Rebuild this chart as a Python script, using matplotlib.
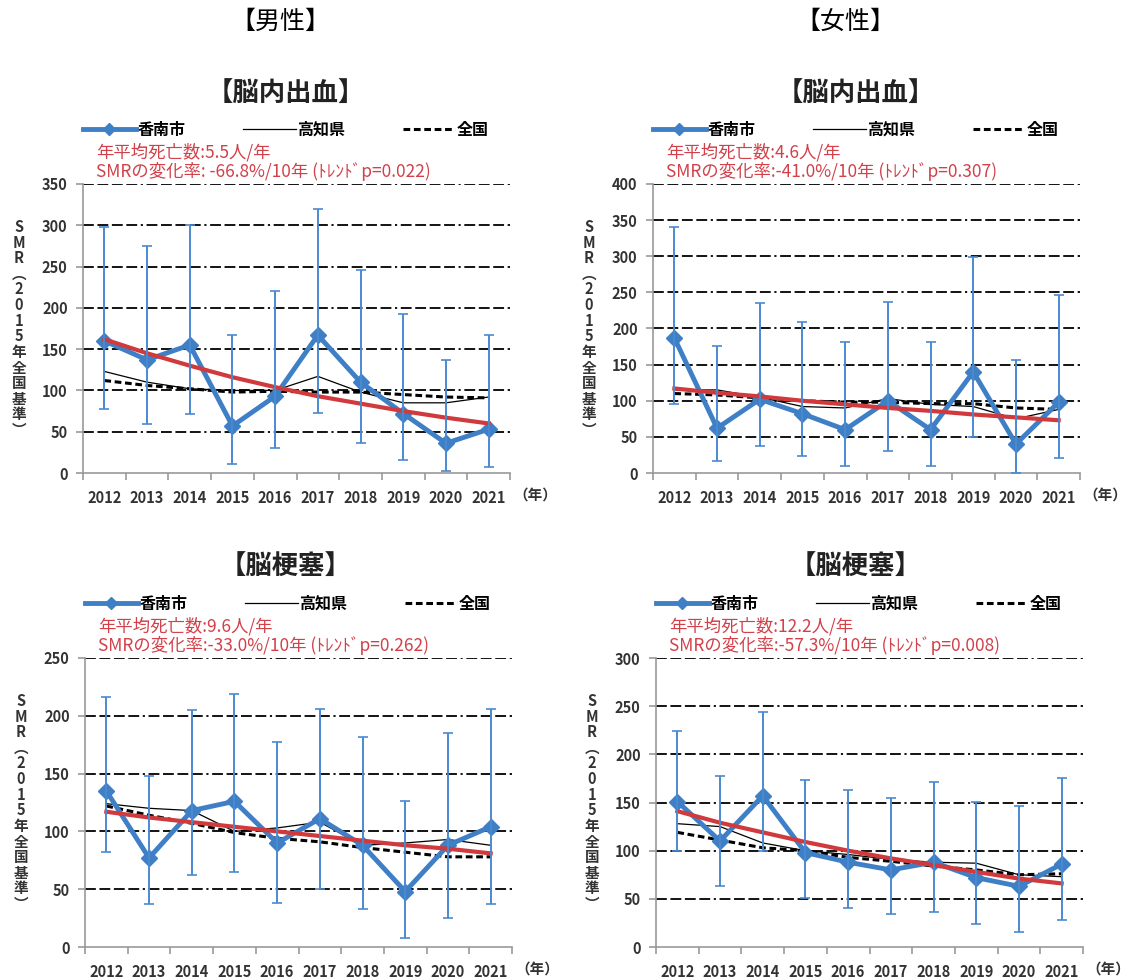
import matplotlib
matplotlib.use("Agg")
import matplotlib.pyplot as plt
from matplotlib.lines import Line2D

plt.rcParams['font.family'] = ['Noto Sans CJK JP', 'DejaVu Sans']

years = ['2012', '2013', '2014', '2015', '2016', '2017', '2018', '2019', '2020', '2021']

# 男性 脳内出血
m_ich_city = [160, 137, 155, 57, 93, 167, 110, 72, 36, 53]
m_ich_lo = [78, 59, 71, 11, 30, 73, 36, 16, 2, 7]
m_ich_hi = [298, 275, 300, 167, 220, 320, 246, 192, 137, 167]
m_ich_pref = [123, 110, 102, 100, 100, 117, 98, 85, 85, 92]
m_ich_nat = [112, 106, 102, 98, 99, 98, 98, 95, 92, 91]
m_ich_trend = [162, 145, 130, 116, 104, 93, 84, 75, 67, 60]

# 女性 脳内出血
f_ich_city = [187, 62, 102, 82, 60, 100, 60, 140, 40, 98]
f_ich_lo = [95, 16, 37, 23, 10, 31, 10, 50, 0, 21]
f_ich_hi = [340, 176, 235, 209, 181, 237, 181, 299, 157, 246]
f_ich_pref = [115, 115, 105, 92, 90, 103, 95, 92, 75, 88]
f_ich_nat = [110, 108, 104, 100, 98, 98, 96, 96, 90, 88]
f_ich_trend = [117, 111, 106, 100, 95, 90, 86, 81, 77, 73]

# 男性 脳梗塞
m_ci_city = [135, 77, 118, 126, 90, 111, 88, 48, 88, 104]
m_ci_lo = [82, 37, 62, 65, 38, 50, 33, 8, 25, 37]
m_ci_hi = [216, 148, 205, 219, 177, 206, 182, 126, 185, 206]
m_ci_pref = [124, 120, 118, 100, 103, 108, 88, 90, 93, 88]
m_ci_nat = [122, 114, 107, 99, 94, 91, 86, 82, 78, 78]
m_ci_trend = [117, 112, 108, 104, 100, 96, 92, 88, 85, 81]

# 女性 脳梗塞
f_ci_city = [151, 110, 157, 98, 88, 80, 88, 72, 63, 86]
f_ci_lo = [100, 63, 100, 51, 40, 34, 36, 24, 16, 28]
f_ci_hi = [224, 177, 244, 173, 163, 155, 171, 151, 146, 175]
f_ci_pref = [128, 125, 108, 100, 96, 91, 88, 87, 75, 73]
f_ci_nat = [119, 111, 103, 100, 93, 89, 84, 80, 75, 76]
f_ci_trend = [141, 129, 119, 109, 100, 92, 85, 78, 71, 66]

panels = [
    # left, bottom (px), ymax, data..., notes
    (83, 473, 350, m_ich_city, m_ich_lo, m_ich_hi, m_ich_pref, m_ich_nat, m_ich_trend,
     '年平均死亡数:5.5人/年', 'SMRの変化率: -66.8%/10年 (ﾄﾚﾝﾄﾞp=0.022)'),
    (653, 473, 400, f_ich_city, f_ich_lo, f_ich_hi, f_ich_pref, f_ich_nat, f_ich_trend,
     '年平均死亡数:4.6人/年', 'SMRの変化率:-41.0%/10年 (ﾄﾚﾝﾄﾞp=0.307)'),
    (85, 947, 250, m_ci_city, m_ci_lo, m_ci_hi, m_ci_pref, m_ci_nat, m_ci_trend,
     '年平均死亡数:9.6人/年', 'SMRの変化率:-33.0%/10年 (ﾄﾚﾝﾄﾞp=0.262)'),
    (656, 947, 300, f_ci_city, f_ci_lo, f_ci_hi, f_ci_pref, f_ci_nat, f_ci_trend,
     '年平均死亡数:12.2人/年', 'SMRの変化率:-57.3%/10年 (ﾄﾚﾝﾄﾞp=0.008)'),
]

W, H = 1134, 980
blue = '#3f7fc6'
ebar = '#4a8ad0'
red = '#d03a3c'
txtred = '#d2404a'
grid_style = (0, (6, 2, 6, 2, 6, 2, 6, 2, 1.2, 2))

fig = plt.figure(figsize=(W / 100, H / 100), dpi=100)
fig.text(280 / W, 1 - 22 / H, '【男性】', ha='center', va='center', fontsize=18)
fig.text(845 / W, 1 - 22 / H, '【女性】', ha='center', va='center', fontsize=18)
for cx, cy, t in [(286, 93, '【脳内出血】'), (856, 93, '【脳内出血】'),
                  (286, 567, '【脳梗塞】'), (856, 567, '【脳梗塞】')]:
    fig.text(cx / W, 1 - cy / H, t, ha='center', va='center', fontsize=19,
             fontweight='bold', color='#222222')

x = list(range(len(years)))
ylab = '\n'.join(list('SMR') + ['︵'] + list('2015年全国基準') + ['︶'])

for left, bottom, ymax, city, lo, hi, pref, nat, trend, note1, note2 in panels:
    ax = fig.add_axes([left / W, 1 - bottom / H, 427 / W, 289 / H])
    ax.set_xlim(-0.5, 9.5)
    ax.set_ylim(0, ymax)
    ax.set_yticks(range(0, ymax + 1, 50))
    for v in range(50, ymax + 1, 50):
        ax.axhline(v, color='black', lw=1.3, linestyle=grid_style, zorder=1)

    ax.plot(x, pref, color='black', lw=0.9, zorder=3)
    ax.plot(x, nat, color='black', lw=2.2, linestyle=(0, (2.2, 1.2)), zorder=3)
    ax.plot(x, city, color=blue, lw=3.5, marker='D', markersize=8, zorder=4)
    ax.plot(x, trend, color=red, lw=3, zorder=5)
    yerr = [[c - l for c, l in zip(city, lo)], [h - c for c, h in zip(city, hi)]]
    ax.errorbar(x, city, yerr=yerr, fmt='none', ecolor=ebar, elinewidth=1.4,
                capsize=3.5, capthick=1.2, zorder=6)

    for s in ['top', 'right']:
        ax.spines[s].set_visible(False)
    for s in ['left', 'bottom']:
        ax.spines[s].set_color('#999999')
        ax.spines[s].set_linewidth(1.2)
    ax.set_xticks(x)
    ax.set_xticklabels(years)
    ax.set_xticks([i - 0.5 for i in range(11)], minor=True)
    ax.tick_params(axis='x', which='major', length=0, pad=12, labelsize=10.5,
                   labelcolor='#333333')
    ax.tick_params(axis='x', which='minor', length=5, width=1.2, color='#999999')
    ax.tick_params(axis='y', length=5, width=1.2, color='#999999', pad=6,
                   labelsize=10.5, labelcolor='#333333')
    for lab in ax.get_xticklabels() + ax.get_yticklabels():
        lab.set_fontweight('bold')

    ax.text(1.06, -0.075, '（年）', transform=ax.transAxes, ha='center', va='center',
            fontsize=10.5, fontweight='bold', color='#333333')
    ax.text(-0.15, 0.5, ylab, transform=ax.transAxes, ha='center', va='center',
            fontsize=10.5, fontweight='bold', linespacing=0.97, color='#333333')

    handles = [Line2D([], [], color=blue, lw=3.5, marker='D', markersize=6),
               Line2D([], [], color='black', lw=0.9),
               Line2D([], [], color='black', lw=2.2, linestyle=(0, (2.2, 1.2)))]
    ax.legend(handles, ['香南市', '高知県', '全国'], ncol=3, loc='center left',
              bbox_to_anchor=(0.0, 1.187), frameon=False, borderpad=0,
              borderaxespad=0, handlelength=3.3, handletextpad=0.1,
              columnspacing=3.6, prop={'size': 11.5, 'weight': 'bold'})
    ax.text(0.03, 1.111, note1, transform=ax.transAxes, ha='left', va='center',
            fontsize=12.5, color=txtred)
    ax.text(0.03, 1.042, note2, transform=ax.transAxes, ha='left', va='center',
            fontsize=12.5, color=txtred)

fig.savefig('out.png', dpi=100)
